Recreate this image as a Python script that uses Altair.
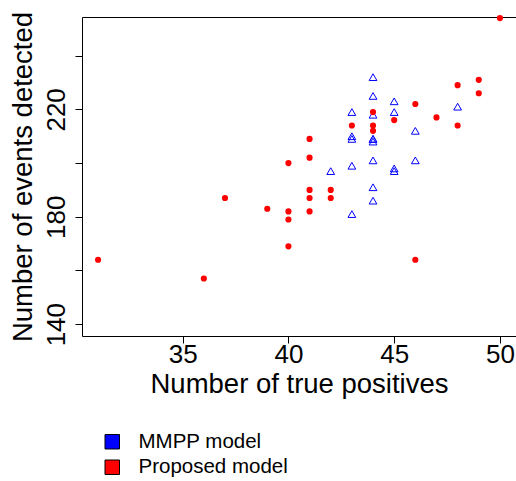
import altair as alt
import pandas as pd

# Proposed model: (true positives, events detected)
proposed_tp = [50, 49, 49, 48, 48, 47, 46, 45, 44, 44, 44, 43, 41, 41, 40,
               37, 39, 40, 40, 40, 31, 36, 41, 42, 41, 42, 41, 46]
proposed_ev = [254, 231, 226, 229, 214, 217, 222, 216, 219, 214, 212, 214, 209, 202, 200,
               187, 183, 182, 179, 169, 164, 157, 190, 190, 187, 187, 182, 164]

# MMPP model: (true positives, events detected)
mmpp_tp = [44, 44, 45, 43, 45, 44, 48, 46, 43, 43, 44, 44, 44, 44, 43,
           46, 42, 45, 45, 44, 44, 43]
mmpp_ev = [232, 225, 223, 219, 219, 218, 221, 212, 210, 209, 209, 208, 209, 201, 199,
           201, 197, 198, 197, 191, 186, 181]

series_names = ["MMPP model", "Proposed model"]
series_colors = ["#0000FF", "#FF0000"]

x_ticks = [35, 40, 45, 50]
y_ticks = [140, 160, 180, 200, 220, 240]

proposed = pd.DataFrame({"tp": proposed_tp, "ev": proposed_ev, "model": "Proposed model"})
mmpp = pd.DataFrame({"tp": mmpp_tp, "ev": mmpp_ev, "model": "MMPP model"})

FONT = "Liberation Sans"
LABEL_FS = 26
TITLE_FS = 27.5

x_enc = alt.X(
    "tp:Q",
    scale=alt.Scale(domain=[30.24, 50.76], nice=False, zero=False),
    axis=alt.Axis(
        values=x_ticks, title="Number of true positives", grid=False, domain=False,
        tickColor="black", tickSize=7, labelFontSize=LABEL_FS, labelColor="black",
        labelFont=FONT, labelPadding=19, labelBaseline="alphabetic",
        titleFontSize=TITLE_FS, titleFont=FONT, titleFontWeight="normal", titleColor="black",
        titleX=217, titleY=56, titleBaseline="alphabetic", titleAlign="center",
    ),
)
y_enc = alt.Y(
    "ev:Q",
    scale=alt.Scale(domain=[135.6, 254.4], nice=False, zero=False),
    axis=alt.Axis(
        values=y_ticks, title="Number of events detected", grid=False, domain=False,
        tickColor="black", tickSize=7, labelFontSize=LABEL_FS, labelColor="black",
        labelFont=FONT, labelAngle=270, labelAlign="center", labelBaseline="alphabetic",
        labelPadding=11, labelExpr="datum.value % 40 == 20 ? datum.label : ''",
        titleFontSize=TITLE_FS, titleFont=FONT, titleFontWeight="normal", titleColor="black",
        titleAngle=270, titleX=-51, titleY=159.5, titleBaseline="alphabetic",
        titleAlign="center",
    ),
)

circles = alt.Chart(proposed).mark_circle(size=38, opacity=1).encode(
    x=x_enc,
    y=y_enc,
    fill=alt.Fill(
        "model:N",
        scale=alt.Scale(domain=series_names, range=series_colors),
        legend=alt.Legend(
            title=None, orient="none", legendX=20, legendY=414.5,
            symbolType="square", symbolSize=210, symbolStrokeColor="black",
            symbolStrokeWidth=1, symbolOpacity=1, labelFontSize=20.5, labelFont=FONT,
            labelColor="black", labelOffset=16, rowPadding=4.5, padding=0,
        ),
    ),
)

triangles = alt.Chart(mmpp).mark_point(
    shape="triangle-up", size=60, filled=False, color="#0000FF", strokeWidth=1, opacity=1
).encode(x=x_enc, y=y_enc)

chart = (
    alt.layer(triangles, circles)
    .properties(
        width=434, height=319,
        autosize=alt.AutoSizeParams(type="none"),
        padding={"left": 82, "top": 17, "right": 0, "bottom": 145},
    )
    .configure(background="white")
    .configure_view(stroke="black", strokeWidth=1)
)

chart.save("out.html", embed_options={"renderer": "svg", "actions": False})
